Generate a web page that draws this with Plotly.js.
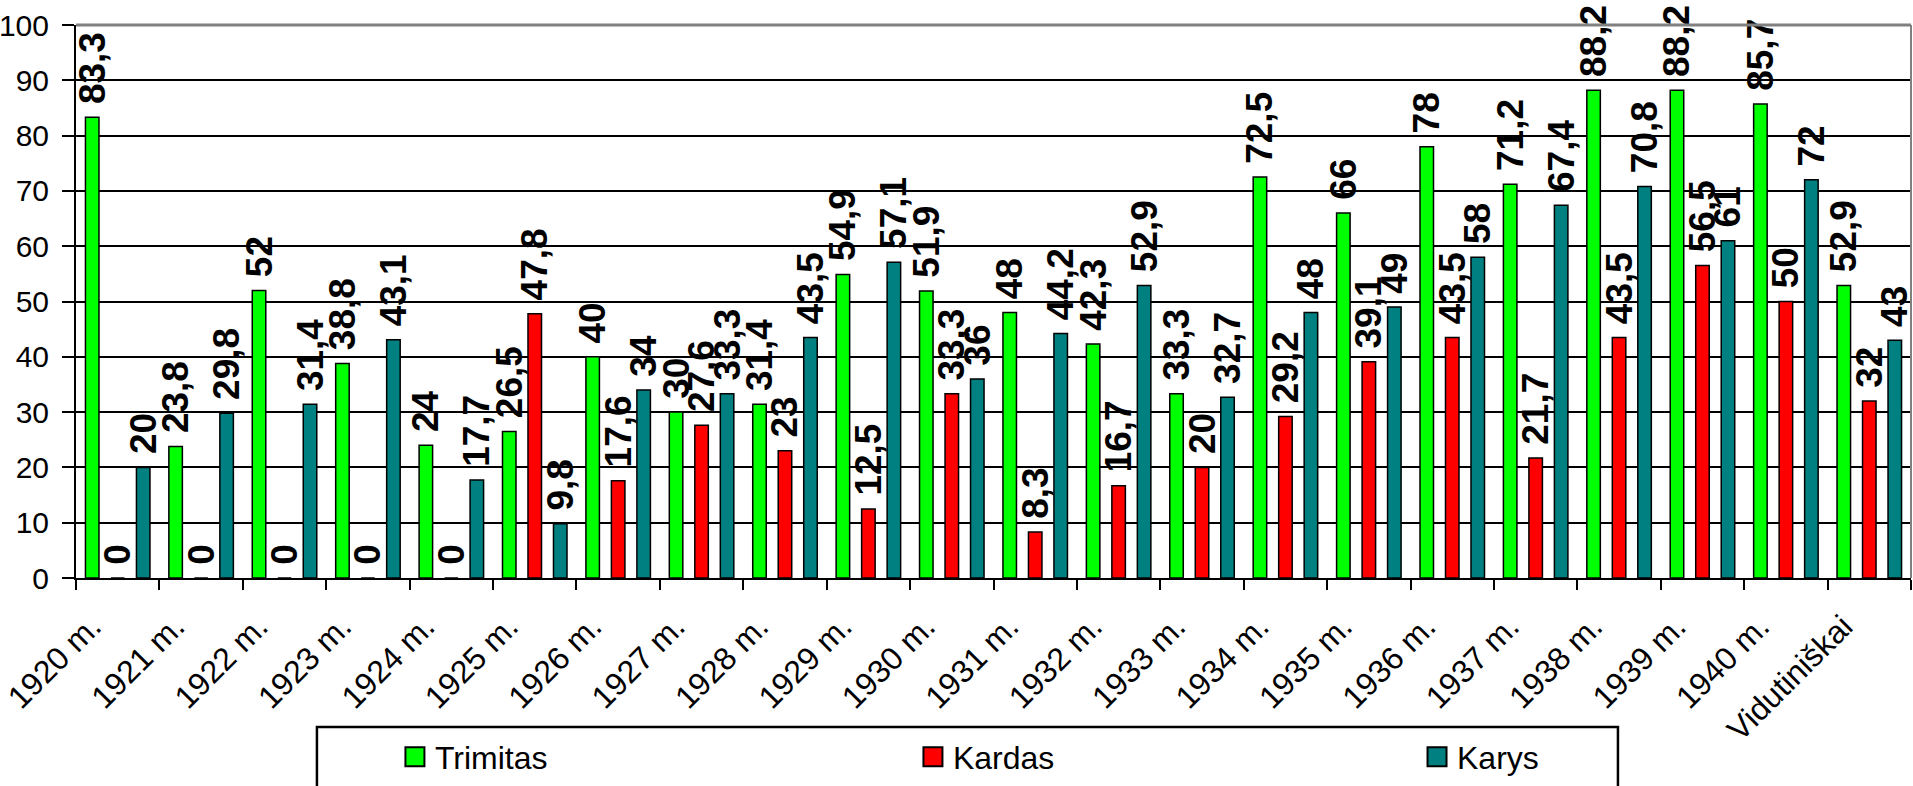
<!DOCTYPE html>
<html>
<head>
<meta charset="utf-8">
<script src="https://cdn.plot.ly/plotly-3.0.1.min.js"></script>
<style>
  html, body { margin: 0; padding: 0; background: #ffffff; }
  #chart { width: 1913px; height: 786px; }
</style>
</head>
<body>
<div id="chart"></div>
<script>
var categories = ['1920 m.', '1921 m.', '1922 m.', '1923 m.', '1924 m.', '1925 m.', '1926 m.',
  '1927 m.', '1928 m.', '1929 m.', '1930 m.', '1931 m.', '1932 m.', '1933 m.', '1934 m.',
  '1935 m.', '1936 m.', '1937 m.', '1938 m.', '1939 m.', '1940 m.', 'Vidutiniškai'];

var trimitas = [83.3, 23.8, 52, 38.8, 24, 26.5, 40, 30, 31.4, 54.9, 51.9, 48, 42.3, 33.3, 72.5,
  66, 78, 71.2, 88.2, 88.2, 85.7, 52.9];
var kardas = [0, 0, 0, 0, 0, 47.8, 17.6, 27.6, 23, 12.5, 33.3, 8.3, 16.7, 20, 29.2,
  39.1, 43.5, 21.7, 43.5, 56.5, 50, 32];
var karys = [20, 29.8, 31.4, 43.1, 17.7, 9.8, 34, 33.3, 43.5, 57.1, 36, 44.2, 52.9, 32.7, 48,
  49, 58, 67.4, 70.8, 61, 72, 43];

var seriesNames = ['Trimitas', 'Kardas', 'Karys'];
var seriesColors = ['#00ff00', '#ff0000', '#008080'];
var legendIds = ['legend', 'legend2', 'legend3'];

var FONT = '"Liberation Sans", Arial, Helvetica, sans-serif';

function fmt(v) { return '\u00a0' + String(v).replace('.', ','); }

var seriesData = [trimitas, kardas, karys];
var traces = seriesData.map(function (vals, i) {
  return {
    type: 'bar',
    name: seriesNames[i],
    legend: legendIds[i],
    x: categories,
    y: vals,
    text: vals.map(fmt),
    textposition: 'outside',
    textangle: -90,
    constraintext: 'none',
    cliponaxis: false,
    textfont: { family: FONT, size: 37, color: '#000000', weight: 'bold' },
    marker: { color: seriesColors[i], line: { color: '#000000', width: 1.5 } },
    hoverinfo: 'x+y'
  };
});

function legendAt(xp) {
  return {
    orientation: 'h',
    x: xp, xanchor: 'left',
    y: -0.3237, yanchor: 'middle',
    font: { family: FONT, size: 32, color: '#000000' },
    bgcolor: 'rgba(0,0,0,0)',
    borderwidth: 0
  };
}

var layout = {
  width: 1913,
  height: 786,
  margin: { l: 76, r: 2, t: 25, b: 208, pad: 0 },
  paper_bgcolor: '#ffffff',
  plot_bgcolor: '#ffffff',
  font: { family: FONT, color: '#000000', size: 30 },
  barmode: 'group',
  bargap: 0.083,
  bargroupgap: 0.47,
  showlegend: true,
  legend: legendAt(0.1738),
  legend2: legendAt(0.4561),
  legend3: legendAt(0.7308),
  xaxis: {
    type: 'category',
    tickson: 'boundaries',
    ticks: 'outside',
    ticklen: 10,
    tickwidth: 2,
    tickcolor: '#000000',
    showline: true,
    linecolor: '#000000',
    linewidth: 2,
    showgrid: false,
    zeroline: false,
    tickangle: -45,
    ticklabelshift: -26,
    ticklabelstandoff: 15,
    tickfont: { family: FONT, size: 32, color: '#000000' },
    automargin: false,
    fixedrange: true
  },
  yaxis: {
    range: [0, 100],
    tick0: 0,
    dtick: 10,
    ticks: 'outside',
    ticklen: 12,
    tickwidth: 2,
    tickcolor: '#000000',
    ticklabelstandoff: 7,
    showline: true,
    linecolor: '#000000',
    linewidth: 2,
    showgrid: true,
    gridcolor: '#000000',
    gridwidth: 2,
    zeroline: false,
    tickfont: { family: FONT, size: 30, color: '#000000' },
    automargin: false,
    fixedrange: true
  },
  shapes: [
    { type: 'line', xref: 'paper', yref: 'paper', x0: 0, x1: 1, y0: 1, y1: 1,
      line: { color: '#808080', width: 3 }, layer: 'above' },
    { type: 'line', xref: 'paper', yref: 'paper', x0: 1, x1: 1, y0: 0, y1: 1,
      line: { color: '#808080', width: 2 }, layer: 'above' },
    { type: 'rect', xref: 'paper', yref: 'paper', x0: 0.1313, x1: 0.8403, y0: -0.2694, y1: -0.40,
      line: { color: '#000000', width: 2.5 }, fillcolor: 'rgba(0,0,0,0)', layer: 'below' }
  ]
};

Plotly.newPlot('chart', traces, layout, { displayModeBar: false, staticPlot: true }).then(function (gd) {
  // enlarge the legend swatches to the reference size (about 20 px squares)
  var pts = gd.querySelectorAll('g.legendpoints path');
  for (var k = 0; k < pts.length; k++) {
    var b;
    try { b = pts[k].getBBox(); } catch (e) { b = null; }
    if (!b || !(b.width > 0) || !(b.height > 0)) continue;
    var cx = b.x + b.width / 2, cy = b.y + b.height / 2, h = 9.5;
    pts[k].setAttribute('d', 'M' + (cx + h) + ',' + (cy + h) + 'H' + (cx - h) + 'V' + (cy - h) + 'H' + (cx + h) + 'Z');
    pts[k].style.strokeWidth = '2px';
  }
});
</script>
</body>
</html>
